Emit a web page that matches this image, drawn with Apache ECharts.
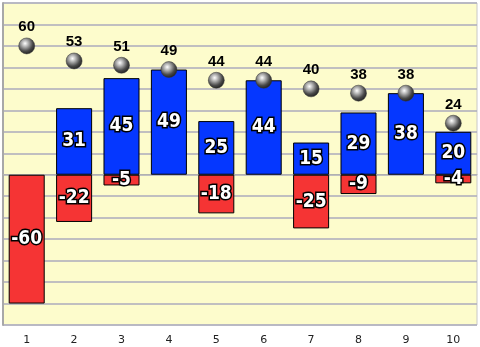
<!DOCTYPE html>
<html><head><meta charset="utf-8">
<script src="https://cdn.jsdelivr.net/npm/echarts@6/dist/echarts.min.js"></script>
<style>html,body{margin:0;padding:0;background:#fff}#c{width:480px;height:347px}</style>
</head><body><div id="c"></div>
<script>
const categories = ['1','2','3','4','5','6','7','8','9','10'];
const positiveValues = [null,31,45,49,25,44,15,29,38,20];
const negativeValues = [-60,-22,-5,null,-18,null,-25,-9,null,-4];
const pointValues = [60,53,51,49,44,44,40,38,38,24];

const chart = echarts.init(document.getElementById('c'));
const barLabel = {
  show: true, position: 'inside', color: '#fff', fontWeight: 'bold',
  fontSize: 19, fontFamily: 'DejaVu Sans Condensed, Liberation Sans Narrow, sans-serif',
  textBorderColor: '#000', textBorderWidth: 3
};
const sphere = new echarts.graphic.RadialGradient(0.4, 0.35, 0.62, [
  {offset: 0, color: '#ffffff'}, {offset: 0.3, color: '#b8b8b8'},
  {offset: 0.75, color: '#4a4a4a'}, {offset: 1, color: '#2a2a2a'}
]);
chart.setOption({
  animation: false,
  backgroundColor: '#fff',
  grid: {left: 3, right: 3, top: 3, bottom: 22, show: true,
    backgroundColor: '#fdfccc', borderColor: '#c8c8c8', borderWidth: 1},
  xAxis: {type: 'category', data: categories,
    axisLine: {lineStyle: {color: '#b0b0b0'}},
    axisTick: {alignWithLabel: true, length: 5, lineStyle: {color: '#999'}},
    axisLabel: {color: '#222', fontSize: 11, fontFamily: 'DejaVu Sans', margin: 10}},
  yAxis: {type: 'value', min: -70, max: 80, interval: 10,
    axisLabel: {show: false},
    axisLine: {show: true, lineStyle: {color: '#a8a8a8', width: 2}},
    axisTick: {show: false},
    splitLine: {lineStyle: {color: '#ababbd', width: 1.5}}},
  series: [
    {type: 'bar', stack: 's', data: positiveValues, barCategoryGap: '24%',
      itemStyle: {color: '#0537ff', borderColor: '#000', borderWidth: 1}, label: barLabel},
    {type: 'bar', stack: 's', data: negativeValues,
      itemStyle: {color: '#f53434', borderColor: '#000', borderWidth: 1}, label: barLabel},
    {type: 'scatter', data: pointValues, symbolSize: 16, z: 5,
      itemStyle: {color: sphere, borderColor: '#333', borderWidth: 0.5, opacity: 1},
      label: {show: true, position: 'top', distance: 3, color: '#000',
        fontWeight: 'bold', fontSize: 15, fontFamily: 'Liberation Sans, Arial, sans-serif'}}
  ]
});
</script></body></html>
